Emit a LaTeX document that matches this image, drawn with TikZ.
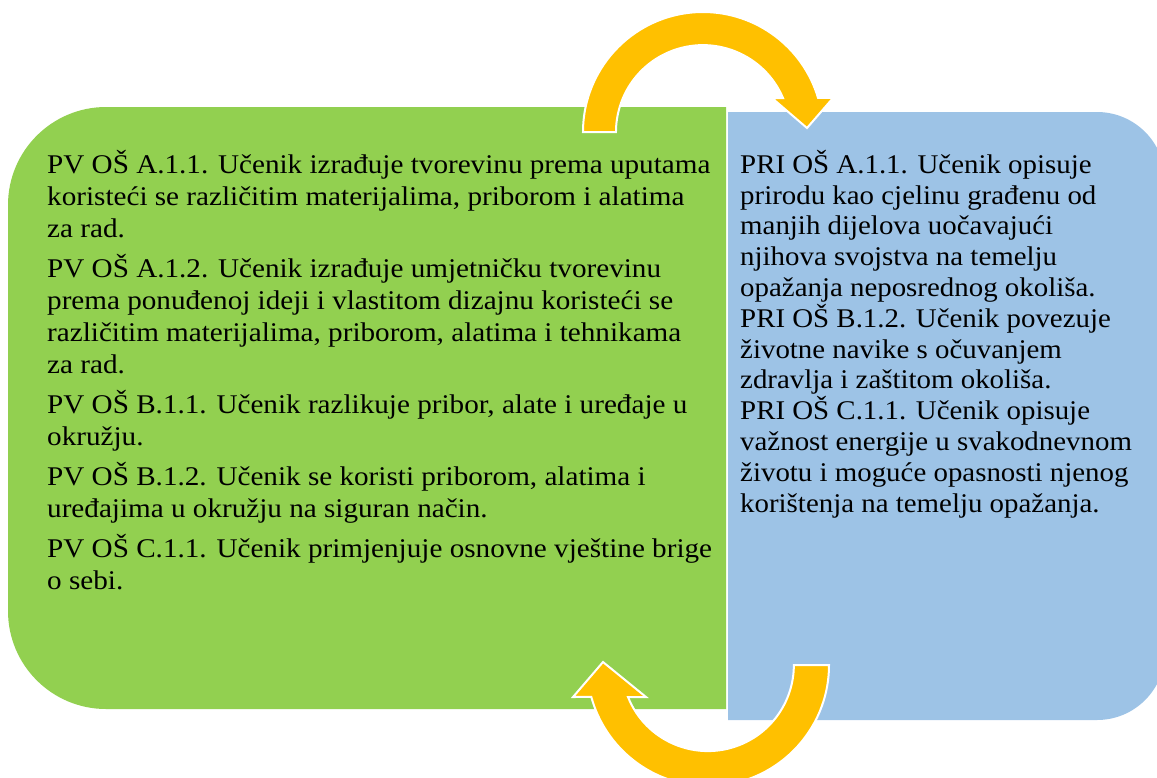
\documentclass[tikz,border=0pt]{standalone}
\usepackage{fontspec}
\setmainfont{Liberation Serif}
\newfontfamily\pvfont[FakeStretch=1.08]{Liberation Serif}
\newfontfamily\prifont[FakeStretch=1.07]{Liberation Serif}
\usetikzlibrary{positioning}

\definecolor{boxgreen}{HTML}{92D050}
\definecolor{boxblue}{HTML}{9DC3E6}
\definecolor{arroworange}{HTML}{FFC000}

\begin{document}
\begin{tikzpicture}[x=1pt, y=1pt, yscale=-1,
    textnode/.style = {anchor=north west, inner sep=0pt, align=left},
    cyclearrow/.style = {fill=arroworange, draw=white, line width=2pt, line join=miter}]
     \useasboundingbox (0,0) rectangle (1157,777);
     \clip (0,0) rectangle (1157,777);

     % boxes
     \fill[boxgreen] (726,107) -- (726,709) -- (106,709)
          arc[start angle=90, end angle=180, radius=98] -- (8,205)
          arc[start angle=180, end angle=270, radius=98] -- cycle;
     \fill[boxblue] (728,112) -- (1097,112)
          arc[start angle=270, end angle=360, radius=68] -- (1165,652)
          arc[start angle=0, end angle=90, radius=68] -- (728,720) -- cycle;

     % arrows
     \filldraw[cyclearrow] (583,132) arc[start angle=180, end angle=343.5, radius=120]
          -- (833,98) -- (807,128) -- (772,98) -- (783,98)
          arc[start angle=336.9, end angle=180, radius=87] -- cycle;
     \filldraw[cyclearrow] (829,665) arc[start angle=0, end angle=164.7, radius=121]
          -- (573,697) -- (603,662) -- (646,697) -- (628,697)
          arc[start angle=158.2, end angle=0, radius=86] -- cycle;

     % texts
     \node[textnode, font=\pvfont\fontsize{27}{32}\selectfont] (pv) at (47,150) {PV OŠ A.1.1. Učenik izrađuje tvorevinu prema uputama\\
          koristeći se različitim materijalima, priborom i alatima\\
          za rad.\\[8pt]
          PV OŠ A.1.2. Učenik izrađuje umjetničku tvorevinu\\
          prema ponuđenoj ideji i vlastitom dizajnu koristeći se\\
          različitim materijalima, priborom, alatima i tehnikama\\
          za rad.\\[8pt]
          PV OŠ B.1.1. Učenik razlikuje pribor, alate i uređaje u\\
          okružju.\\[8pt]
          PV OŠ B.1.2. Učenik se koristi priborom, alatima i\\
          uređajima u okružju na siguran način.\\[8pt]
          PV OŠ C.1.1. Učenik primjenjuje osnovne vještine brige\\
          o sebi.};
     \node[textnode, font=\prifont\fontsize{27}{30.8}\selectfont] (pri) at (740,150) {PRI OŠ A.1.1. Učenik opisuje\\
          prirodu kao cjelinu građenu od\\
          manjih dijelova uočavajući\\
          njihova svojstva na temelju\\
          opažanja neposrednog okoliša.\\
          PRI OŠ B.1.2. Učenik povezuje\\
          životne navike s očuvanjem\\
          zdravlja i zaštitom okoliša.\\
          PRI OŠ C.1.1. Učenik opisuje\\
          važnost energije u svakodnevnom\\
          životu i moguće opasnosti njenog\\
          korištenja na temelju opažanja.};
\end{tikzpicture}
\end{document}
